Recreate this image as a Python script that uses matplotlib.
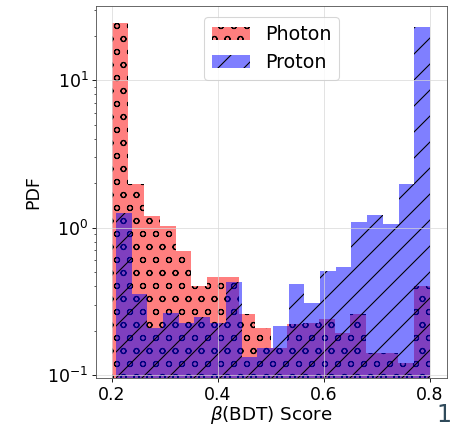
import numpy as np
import matplotlib
matplotlib.use("Agg")
import matplotlib.pyplot as plt

# Photon: 20 equal bins over its score range
photon_range = [0.200, 0.800]
photon_pdf = [24.3, 1.97, 1.20, 1.02, 0.694, 0.400, 0.465, 0.465, 0.261, 0.209,
              0.153, 0.223, 0.225, 0.240, 0.194, 0.260, 0.140, 0.140, 0.121, 0.403]

# Proton: 20 equal bins over its score range
proton_range = [0.2075, 0.800]
proton_pdf = [1.25, 0.357, 0.207, 0.264, 0.227, 0.246, 0.227, 0.430, 0.133, 0.153,
              0.215, 0.414, 0.310, 0.510, 0.543, 1.10, 1.22, 1.06, 1.98, 23.0]

xticks = [0.2, 0.4, 0.6, 0.8]

dpi = 78
fig = plt.figure(figsize=(452 / dpi, 429 / dpi), dpi=dpi)
ax = fig.add_axes([0.2124, 0.1189, 0.9889 - 0.2124, 0.986 - 0.1189])

ph_edges = np.linspace(photon_range[0], photon_range[1], len(photon_pdf) + 1)
pr_edges = np.linspace(proton_range[0], proton_range[1], len(proton_pdf) + 1)

ax.stairs(photon_pdf, ph_edges, fill=True, baseline=1e-3, color='red', alpha=0.5,
          hatch='o', label='Photon')
ax.stairs(proton_pdf, pr_edges, fill=True, baseline=1e-3, color='blue', alpha=0.5,
          hatch='/', label='Proton')

ax.set_yscale('log')
ax.set_xlim(0.17, 0.832)
ax.set_ylim(10 ** -1.02, 10 ** 1.503)
ax.set_xticks(xticks)
ax.set_xticklabels([f"{t:.1f}" for t in xticks])
ax.tick_params(axis='both', labelsize=16)
ax.grid(True, color='#d8d8d8', linewidth=0.8, alpha=0.8)
ax.set_xlabel(r'$\beta$(BDT) Score', fontsize=17, labelpad=0)
ax.set_ylabel('PDF', fontsize=16, labelpad=5)
ax.legend(loc='upper center', fontsize=17.5, handlelength=2.0, borderaxespad=0.6)

for s in ax.spines.values():
    s.set_color('#555555')

fig.text(0.999, 0.005, '1', color='#2f4a5a', fontsize=22, ha='right', va='bottom')

fig.savefig('out.png', dpi=dpi)
